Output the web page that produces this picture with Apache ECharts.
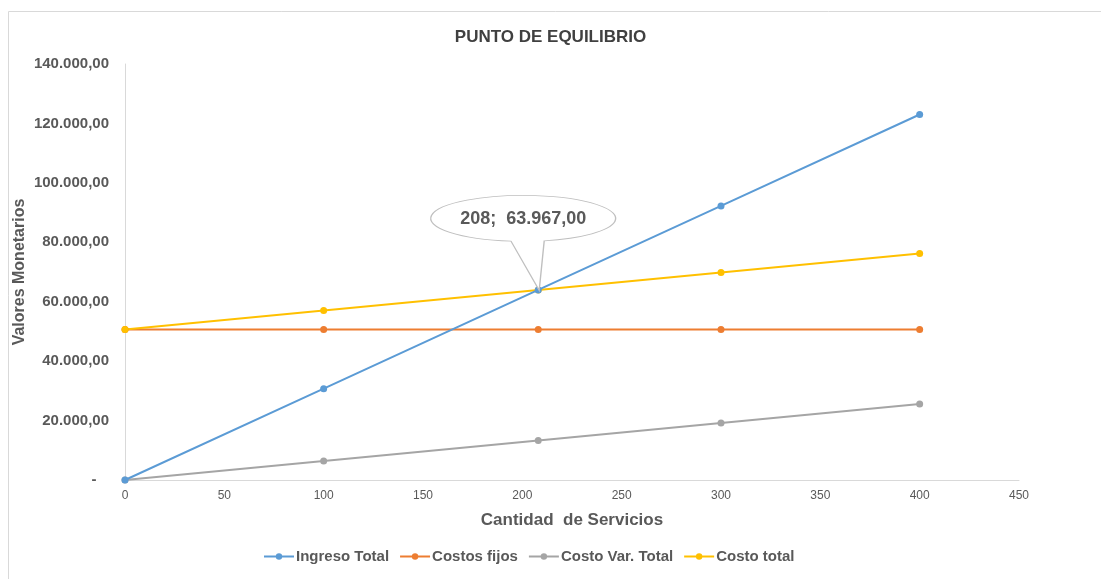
<!DOCTYPE html>
<html>
<head>
<meta charset="utf-8">
<script src="https://cdn.jsdelivr.net/npm/echarts@6/dist/echarts.min.js"></script>
<style>
  html, body { margin: 0; padding: 0; background: #fff; }
  #chart { width: 1101px; height: 579px; }
</style>
</head>
<body>
<div id="chart"></div>
<script>
  // cantidad de servicios
  var cantidades = [0, 100, 208, 300, 400];
  var ingresoTotal = [0, 30750, 63960, 92250, 123000];
  var costosFijos = [50650, 50650, 50650, 50650, 50650];
  var costoVarTotal = [0, 6400, 13312, 19200, 25600];
  var costoTotal = [50650, 57050, 63962, 69850, 76250];
  var equilibrio = [208, 63967];
  var equilibrioTexto = '208;  63.967,00';

  function pares(vals) {
    return cantidades.map(function (x, i) { return [x, vals[i]] })
  }

  function formatoMonto(v) {
    if (v === 0) return '-   '
    var s = Math.round(v).toString().replace(/\B(?=(\d{3})+(?!\d))/g, '.')
    return s + ',00'
  }

  var font = '"Liberation Sans", Arial, sans-serif'
  // globo del punto de equilibrio
  var globo = 'path://M80 45.8 A92 23 0 1 1 113 45.4 L108 95 Z'

  var chart = echarts.init(document.getElementById('chart'))
  chart.setOption({
    animation: false,
    color: ['#5B9BD5', '#ED7D31', '#A5A5A5', '#FFC000'],
    textStyle: { fontFamily: font },
    title: {
      text: 'PUNTO DE EQUILIBRIO',
      left: 'center',
      top: 24,
      textStyle: { fontSize: 17, fontWeight: 'bold', color: '#404040', fontFamily: font }
    },
    graphic: [{
      type: 'rect',
      shape: { x: 8.5, y: 11.5, width: 1200, height: 700 },
      style: { fill: 'none', stroke: '#d9d9d9', lineWidth: 1 },
      silent: true
    }],
    legend: {
      bottom: 10,
      left: 258,
      itemWidth: 30,
      itemHeight: 8,
      itemGap: 10,
      textStyle: { fontSize: 15, fontWeight: 'bold', color: '#595959', fontFamily: font, padding: [0, 0, 0, -3] },
      data: ['Ingreso Total', 'Costos fijos', 'Costo Var. Total', 'Costo total']
    },
    grid: {
      left: 125,
      right: 82,
      top: 64,
      bottom: 99,
      containLabel: false
    },
    xAxis: {
      type: 'value',
      min: 0,
      max: 450,
      interval: 50,
      name: 'Cantidad  de Servicios',
      nameLocation: 'middle',
      nameGap: 32,
      nameTextStyle: { fontSize: 17, fontWeight: 'bold', color: '#595959', fontFamily: font },
      axisLine: { lineStyle: { color: '#d9d9d9' } },
      axisTick: { show: false },
      axisLabel: { fontSize: 12, color: '#595959', margin: 10 },
      splitLine: { show: false }
    },
    yAxis: {
      type: 'value',
      min: 0,
      max: 140000,
      interval: 20000,
      name: 'Valores Monetarios',
      nameLocation: 'middle',
      nameGap: 97,
      nameMoveOverlap: false,
      nameTextStyle: { fontSize: 16, fontWeight: 'bold', color: '#595959', fontFamily: font },
      axisLine: { show: true, lineStyle: { color: '#d9d9d9' } },
      axisTick: { show: false },
      axisLabel: {
        fontSize: 15, fontWeight: 'bold', color: '#595959', margin: 16,
        formatter: formatoMonto
      },
      splitLine: { show: false }
    },
    series: [{
      name: 'Ingreso Total',
      type: 'line',
      data: pares(ingresoTotal),
      symbol: 'circle',
      symbolSize: 7,
      lineStyle: { width: 2 },
      z: 4
    }, {
      name: 'Costos fijos',
      type: 'line',
      data: pares(costosFijos),
      symbol: 'circle',
      symbolSize: 7,
      lineStyle: { width: 2 }
    }, {
      name: 'Costo Var. Total',
      type: 'line',
      data: pares(costoVarTotal),
      symbol: 'circle',
      symbolSize: 7,
      lineStyle: { width: 2 }
    }, {
      name: 'Costo total',
      type: 'line',
      data: pares(costoTotal),
      symbol: 'circle',
      symbolSize: 7,
      lineStyle: { width: 2 },
      z: 3,
      markPoint: {
        symbol: globo,
        symbolSize: [185, 95],
        symbolOffset: [-15, -47],
        silent: true,
        itemStyle: { color: '#ffffff', borderColor: '#bfbfbf', borderWidth: 1 },
        label: {
          show: true,
          position: 'inside',
          offset: [0, -24],
          formatter: equilibrioTexto,
          fontSize: 18,
          fontWeight: 'bold',
          color: '#595959',
          fontFamily: font
        },
        data: [{ coord: equilibrio }]
      }
    }]
  })
</script>
</body>
</html>
